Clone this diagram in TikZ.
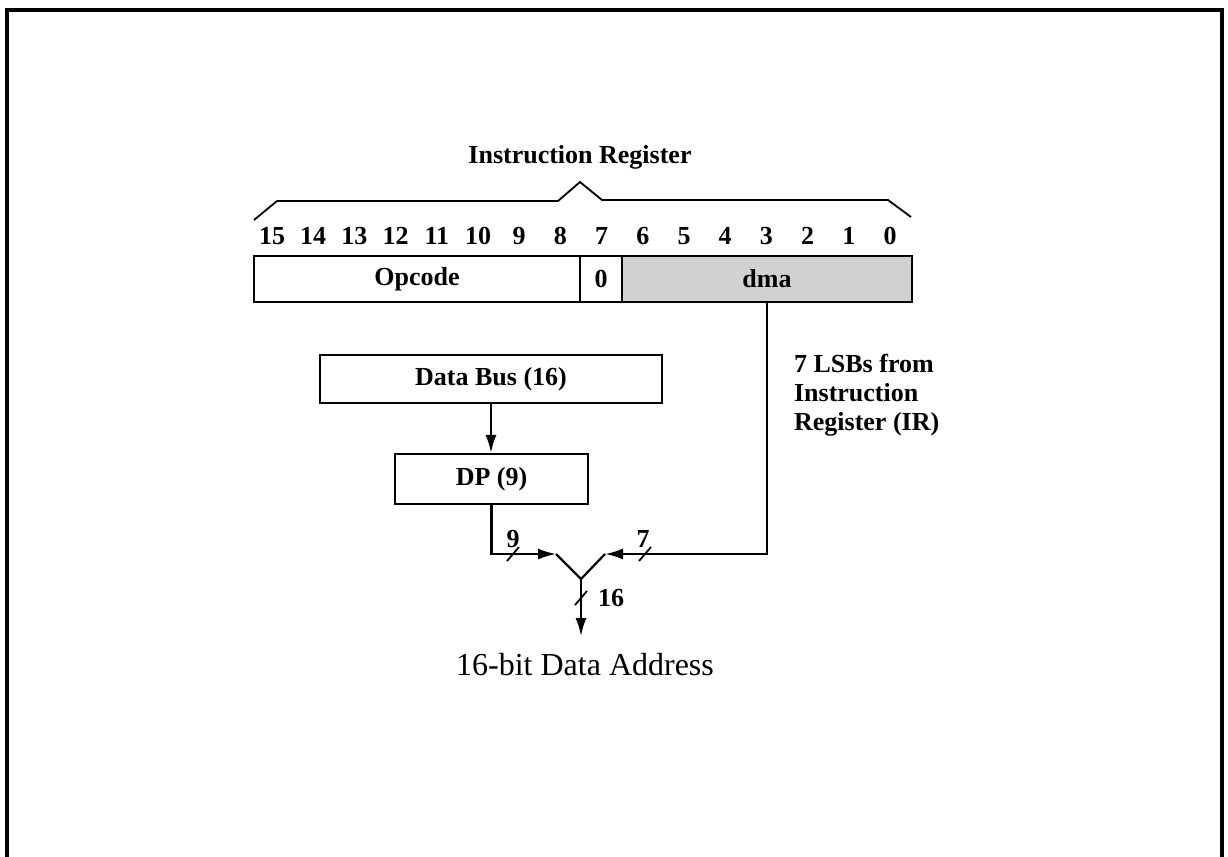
\documentclass[tikz,border=0pt]{standalone}
\usepackage{fontspec}
\setmainfont{Liberation Serif}
\usetikzlibrary{arrows.meta}
\begin{document}
\begin{tikzpicture}[x=0.5pt,y=-0.5pt, line width=1.1pt,
  lbl/.style={font=\bfseries\fontsize{13}{15}\selectfont, inner sep=0pt},
  cellbox/.style={draw, line width=1.1pt, inner sep=0pt, minimum height=23pt, font=\bfseries\fontsize{13}{15}\selectfont},
  blockbox/.style={draw, line width=1.1pt, inner sep=0pt, font=\bfseries\fontsize{13}{15}\selectfont},
  arr/.style={-{Latex[length=9pt,width=5.5pt]}},
  tickmark/.style={line width=0.9pt}]
\useasboundingbox (0,0) rectangle (1228,857);
% frame
\draw[line width=1.6pt] (7,857) -- (7,10) -- (1222,10) -- (1222,857);
% title and brace
\node[lbl, anchor=base] (title) at (580,163) {Instruction Register};
\draw[line width=0.9pt] (254,220) -- (277,201) -- (558,201) -- (580,182) -- (602,200) -- (888,200) -- (911,217);
% bit numbers
\foreach \i in {0,...,15} {
  \node[lbl, anchor=base] (bit\i) at ({272+(15-\i)*41.2},244) {\i};
}
% register cells
\node[cellbox, minimum width=163pt] (opcode) at (417,279) {Opcode};
\node[cellbox, minimum width=21pt] (zero) at (601,279) {0};
\node[cellbox, minimum width=145pt, fill=black!18] (dma) at (767,279) {dma};
% blocks
\node[blockbox, minimum width=171pt, minimum height=24pt] (bus) at (491,379) {Data Bus (16)};
\node[blockbox, minimum width=96.5pt, minimum height=25pt] (dp) at (491.5,479) {DP (9)};
% side label
\node[font=\bfseries\fontsize{13}{14.5}\selectfont, inner sep=0pt, align=left, anchor=north west] (lsb) at (793,353) {7 LSBs from\\Instruction\\Register (IR)};
% junction coordinates
\coordinate (yl) at (556,554);
\coordinate (yr) at (605,554);
\coordinate (yj) at (581,579);
\coordinate (yo) at (581,636);
% connectors
\draw[arr] (bus.south) -- (bus.south |- dp.north);
\draw[arr] (dp.south) |- (yl);
\draw[arr] (dma.south) |- (yr);
\draw (yl) -- (yj) -- (yr);
\draw[arr] (yj) -- (yo);
% bus-width ticks
\coordinate (t9) at (513,554);
\coordinate (t7) at (645,554);
\coordinate (t16) at (581,598);
\draw[tickmark] (t9) ++(-6,7) -- ++(12,-14);
\draw[tickmark] (t7) ++(-6,7) -- ++(12,-14);
\draw[tickmark] (t16) ++(-6,7) -- ++(12,-14);
\node[lbl, anchor=base] (n9) at (513,547) {9};
\node[lbl, anchor=base] (n7) at (643,547) {7};
\node[lbl, anchor=base west] (n16) at (597,606) {16};
% output label
\node[font=\fontsize{16}{19}\selectfont, inner sep=0pt, anchor=base] (out) at (585,675) {16-bit Data Address};
\end{tikzpicture}
\end{document}
